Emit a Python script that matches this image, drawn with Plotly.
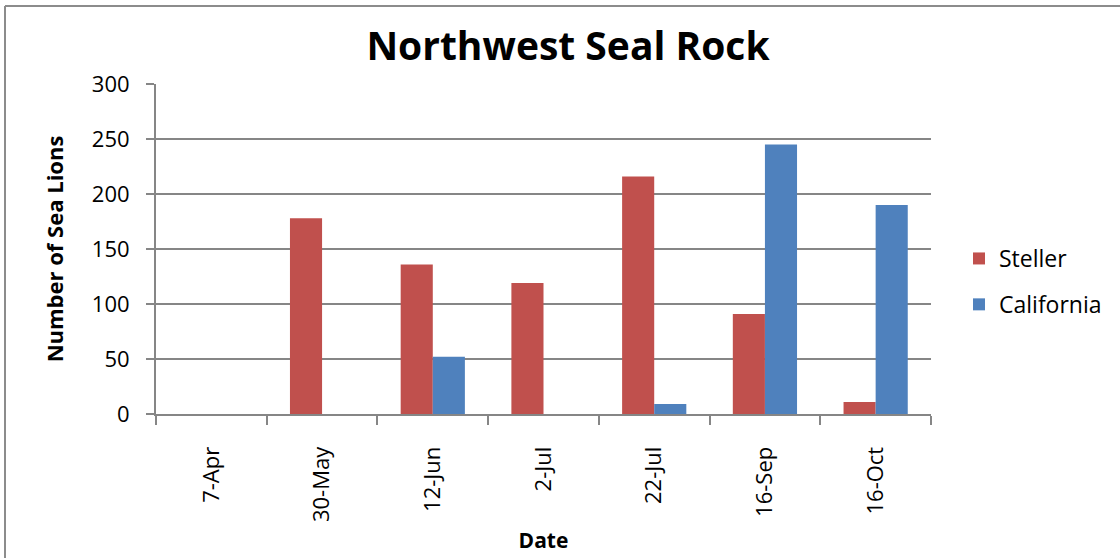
import plotly.graph_objects as go

# Survey dates and counts of sea lions hauled out at Northwest Seal Rock
dates = ["7-Apr", "30-May", "12-Jun", "2-Jul", "22-Jul", "16-Sep", "16-Oct"]
steller = [0, 178, 136, 119, 216, 91, 11]
california = [0, 0, 52, 0, 9, 245, 190]
y_ticks = [0, 50, 100, 150, 200, 250, 300]

FONT = "'Open Sans', 'Noto Sans', sans-serif"
GRID = "#868686"

fig = go.Figure()
fig.add_trace(go.Bar(name="Steller", x=dates, y=steller,
                     marker=dict(color="#C0504D", line=dict(width=0)),
                     legendgroup="a"))
fig.add_trace(go.Bar(name="California", x=dates, y=california,
                     marker=dict(color="#4F81BD", line=dict(width=0)),
                     legendgroup="b"))

W, H = 1120, 558
L, R, T, B = 156, 189, 84, 144
pw, ph = W - L - R, H - T - B

def px_x(x):
    return (x - L) / pw

def px_y(y):
    return (H - B - y) / ph

# chart-area frame (left and top edges)
for x0, y0, x1, y1 in [(5, 6, W, 6), (5, 6, 5, H)]:
    fig.add_shape(type="line", xref="paper", yref="paper",
                  x0=px_x(x0), y0=px_y(y0), x1=px_x(x1), y1=px_y(y1),
                  line=dict(color="#8c8c8c", width=2))

fig.update_layout(
    width=W, height=H,
    margin=dict(l=L, r=R, t=T, b=B, autoexpand=False),
    paper_bgcolor="white", plot_bgcolor="white",
    font=dict(family=FONT, size=22, color="black"),
    barmode="group", bargap=0.42, bargroupgap=0,
    title=dict(text="<b>Northwest Seal Rock</b>", font=dict(size=39),
               x=px_x(568), xref="paper", xanchor="center",
               y=1 - 46 / H, yanchor="middle"),
    showlegend=True,
    legend=dict(x=px_x(959), y=px_y(237), xanchor="left", yanchor="top",
                font=dict(size=23), traceorder="grouped", tracegroupgap=13,
                itemwidth=30, bgcolor="rgba(0,0,0,0)"),
    xaxis=dict(type="category", tickangle=-90, tickson="boundaries",
               ticks="outside", ticklen=9, tickcolor=GRID, tickwidth=2,
               showline=True, linecolor=GRID, linewidth=2,
               showgrid=False, tickfont=dict(size=22), ticklabelstandoff=22,
               title=dict(text="<b>Date</b>", font=dict(size=21), standoff=12)),
    yaxis=dict(range=[0, 300], tickvals=y_ticks, showgrid=True,
               gridcolor=GRID, gridwidth=2, zeroline=False,
               showline=True, linecolor=GRID, linewidth=2,
               ticks="outside", ticklen=8, tickcolor=GRID, tickwidth=2,
               tickfont=dict(size=22), ticklabelstandoff=12,
               title=dict(text="<b>Number of Sea Lions</b>", font=dict(size=22),
                          standoff=22)),
)

fig.write_html("out.html")
